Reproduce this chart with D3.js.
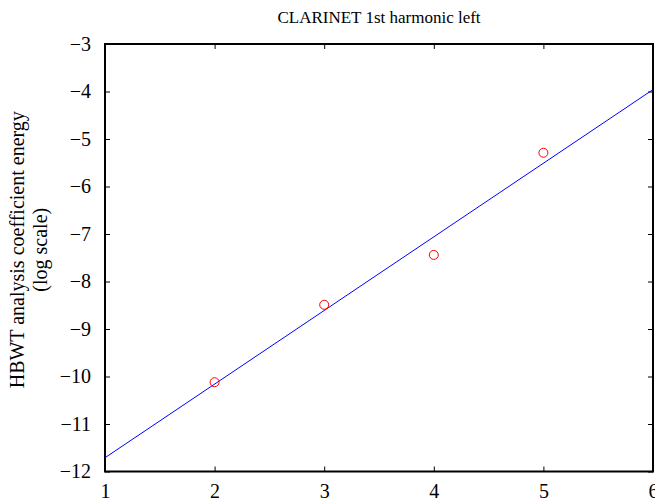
<!DOCTYPE html>
<html><head><meta charset="utf-8">
<script src="https://cdn.jsdelivr.net/npm/d3@7"></script>
<style>body{margin:0;background:#fff}</style>
</head><body>
<svg id="c" width="655" height="504"></svg>
<script>
const harmonicX = [2, 3, 4, 5];
const energyY = [-10.12, -8.49, -7.44, -5.29];
const fitX = [1, 6];
const fitY = [-11.71, -3.96];
const xTicks = [1, 2, 3, 4, 5, 6];
const yTicks = [-3, -4, -5, -6, -7, -8, -9, -10, -11, -12];
const title = "CLARINET 1st harmonic left";
const yLabel = ["HBWT analysis coefficient energy", "(log scale)"];

const svg = d3.select("#c");
const m = {l: 105, r: 653, t: 44, b: 471.5};
const x = d3.scaleLinear().domain([1, 6]).range([m.l, m.r]);
const y = d3.scaleLinear().domain([-12, -3]).range([m.b, m.t]);
const font = "'Liberation Serif', 'DejaVu Serif', serif";
const minus = v => (v < 0 ? "\u2212" + Math.abs(v) : "" + v);

const g = svg.append("g");
const tl = 5;
const ax = g.append("g").attr("transform", `translate(0,${m.b})`)
  .call(d3.axisBottom(x).tickValues(xTicks).tickSizeInner(-tl).tickSizeOuter(0).tickPadding(12).tickFormat(d => d));
const axT = g.append("g").attr("transform", `translate(0,${m.t})`)
  .call(d3.axisTop(x).tickValues(xTicks).tickSizeInner(-tl).tickSizeOuter(0).tickFormat(""));
const ay = g.append("g").attr("transform", `translate(${m.l},0)`)
  .call(d3.axisLeft(y).tickValues(yTicks).tickSizeInner(-tl).tickSizeOuter(0).tickPadding(14).tickFormat(minus));
const ayR = g.append("g").attr("transform", `translate(${m.r},0)`)
  .call(d3.axisRight(y).tickValues(yTicks).tickSizeInner(-tl).tickSizeOuter(0).tickFormat(""));
[ax, axT, ay, ayR].forEach(a => {
  a.select(".domain").remove();
  a.selectAll("line").attr("stroke", "#000").attr("stroke-width", 1);
  a.selectAll("text").attr("font-family", font).attr("font-size", 20).attr("fill", "#000");
});
g.append("rect").attr("x", m.l).attr("y", m.t).attr("width", m.r - m.l).attr("height", m.b - m.t)
  .attr("fill", "none").attr("stroke", "#000").attr("stroke-width", 2);

const line = d3.line().x((d, i) => x(fitX[i])).y(d => y(d));
g.append("path").datum(fitY).attr("d", line).attr("fill", "none").attr("stroke", "#0000ff").attr("stroke-width", 1);

g.selectAll("circle.pt").data(harmonicX).join("circle").attr("class", "pt")
  .attr("cx", d => x(d)).attr("cy", (d, i) => y(energyY[i])).attr("r", 4.5)
  .attr("fill", "none").attr("stroke", "#ff0000").attr("stroke-width", 1);

svg.append("text").attr("x", (m.l + m.r) / 2).attr("y", 23).attr("text-anchor", "middle")
  .attr("font-family", font).attr("font-size", 17).text(title);

const yl = svg.append("text").attr("transform", `translate(0,${(m.t + m.b) / 2 - 8}) rotate(-90)`)
  .attr("text-anchor", "middle").attr("font-family", font).attr("font-size", 20);
yl.append("tspan").attr("x", 0).attr("y", 24).text(yLabel[0]);
yl.append("tspan").attr("x", 0).attr("y", 47).text(yLabel[1]);
</script>
</body></html>
